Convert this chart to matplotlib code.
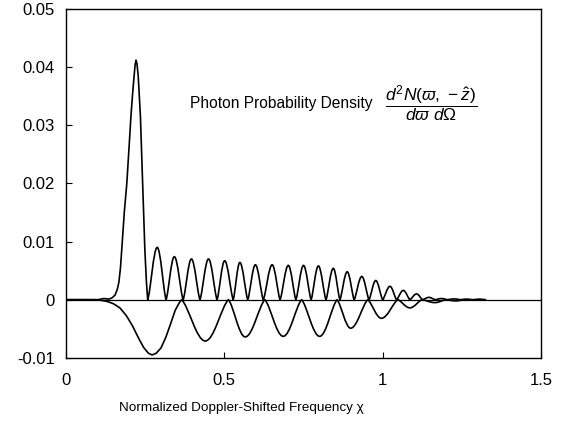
import matplotlib
matplotlib.use("Agg")
import matplotlib.pyplot as plt
from matplotlib.path import Path
from matplotlib.patches import PathPatch

plt.rcParams['font.family'] = ['Liberation Sans', 'DejaVu Sans']
plt.rcParams['mathtext.fontset'] = 'custom'
plt.rcParams['mathtext.rm'] = 'Liberation Sans'
plt.rcParams['mathtext.it'] = 'Liberation Sans:italic'
plt.rcParams['mathtext.bf'] = 'Liberation Sans:bold'

# positive curve: big first peak read point by point
main_x = [0.00, 0.10, 0.12, 0.135, 0.145, 0.155, 0.162, 0.167, 0.172, 0.176,
          0.184, 0.192, 0.200, 0.205, 0.210, 0.214, 0.218, 0.221, 0.224,
          0.228, 0.232, 0.235, 0.242, 0.249, 0.254, 0.258]
main_y = [0.0, 0.0, 0.0002, 0.0001, 0.0003, 0.0008, 0.0018, 0.0030, 0.0055, 0.0086,
          0.0150, 0.0200, 0.0270, 0.0315, 0.0352, 0.0378, 0.0403, 0.0412, 0.0406,
          0.0385, 0.0345, 0.0315, 0.0200, 0.0086, 0.0030, 0.0]

# positive curve: following lobes (zeros between them, peak position, peak height)
pos_zeros = [0.258, 0.316, 0.370, 0.423, 0.477, 0.528, 0.574, 0.623, 0.676, 0.726,
             0.774, 0.821, 0.865, 0.910, 0.957, 1.000, 1.044, 1.086, 1.126, 1.166,
             1.205, 1.245, 1.285, 1.325]
pos_peak_x = [0.288, 0.342, 0.396, 0.450, 0.501, 0.549, 0.598, 0.651, 0.702, 0.750,
              0.797, 0.844, 0.888, 0.934, 0.978, 1.023, 1.065, 1.107, 1.146, 1.186,
              1.225, 1.265, 1.305]
pos_peak_y = [0.0090, 0.0074, 0.0070, 0.0070, 0.0067, 0.0064, 0.0060, 0.0060, 0.0059,
              0.0059, 0.0058, 0.0054, 0.0048, 0.0040, 0.0033, 0.0023, 0.0016, 0.0010,
              0.0004, 0.0002, 0.00015, 0.0001, 0.0001]

# negative curve: first broad dip read point by point
lead_x = [0.00, 0.09, 0.11, 0.13, 0.15, 0.17, 0.19, 0.21, 0.23, 0.245, 0.26, 0.272,
          0.285, 0.30, 0.315, 0.33, 0.345, 0.357, 0.365]
lead_y = [0.0, 0.0, -0.0001, -0.0003, -0.0007, -0.0014, -0.0027, -0.0045, -0.0067,
          -0.0082, -0.0092, -0.0095, -0.0092, -0.0083, -0.0065, -0.0042, -0.0018,
          -0.0006, 0.0]

# negative curve: following lobes
neg_zeros = [0.365, 0.513, 0.628, 0.744, 0.856, 0.953, 1.048, 1.124, 1.200, 1.260]
neg_min_x = [0.440, 0.566, 0.686, 0.801, 0.899, 0.996, 1.086, 1.165, 1.230]
neg_min_y = [-0.0071, -0.0064, -0.0063, -0.0063, -0.0049, -0.0032, -0.0014,
             -0.0005, -0.0002]

x_ticks = [0, 0.5, 1, 1.5]
x_tick_labels = ['0', '0.5', '1', '1.5']
y_ticks = [-0.01, 0, 0.01, 0.02, 0.03, 0.04, 0.05]
y_tick_labels = ['-0.01', '0', '0.01', '0.02', '0.03', '0.04', '0.05']


def curve_path(px, py, zeros, tops_x, tops_y):
    # polyline part, then each lobe as two cubic beziers meeting at the lobe top
    verts = [(px[0], py[0])]
    codes = [Path.MOVETO]
    for a, b in zip(px[1:], py[1:]):
        verts.append((a, b))
        codes.append(Path.LINETO)
    for i in range(len(tops_x)):
        x0, x1 = zeros[i], zeros[i + 1]
        xp, h = tops_x[i], tops_y[i]
        dl, dr = xp - x0, x1 - xp
        verts += [(x0 + 0.3 * dl, 0.15 * h), (xp - 0.38 * dl, h), (xp, h),
                  (xp + 0.38 * dr, h), (x1 - 0.3 * dr, 0.15 * h), (x1, 0)]
        codes += [Path.CURVE4] * 6
    return Path(verts, codes)


fig = plt.figure(figsize=(5.74, 4.24), dpi=100)
ax = fig.add_axes([0.115, 0.156, 0.8275, 0.823])

ax.axhline(0, color='black', lw=0.9)
for p in [curve_path(main_x, main_y, pos_zeros, pos_peak_x, pos_peak_y),
          curve_path(lead_x, lead_y, neg_zeros, neg_min_x, neg_min_y)]:
    ax.add_patch(PathPatch(p, fill=False, edgecolor='black', lw=1.2,
                           joinstyle='round', capstyle='round'))

ax.set_xlim(0, 1.5)
ax.set_ylim(-0.01, 0.05)
ax.set_xticks(x_ticks)
ax.set_xticklabels(x_tick_labels)
ax.set_yticks(y_ticks)
ax.set_yticklabels(y_tick_labels)
ax.tick_params(direction='in', length=4, width=0.8, labelsize=12, colors='black')
ax.tick_params(axis='x', pad=11)
ax.tick_params(axis='y', pad=8)
for s in ax.spines.values():
    s.set_linewidth(1.0)

ax.set_xlabel('Normalized Doppler-Shifted Frequency χ', fontsize=9.7,
              labelpad=10, x=0.37)

ax.text(0.261, 0.728, 'Photon Probability Density', transform=ax.transAxes,
        fontsize=11.2, ha='left', va='center')
ax.text(0.672, 0.728, r'$\dfrac{d^2N(\varpi,\,-\hat{z})}{d\varpi\ d\Omega}$',
        transform=ax.transAxes, fontsize=12.5, ha='left', va='center')

fig.savefig('out.png', dpi=100)
